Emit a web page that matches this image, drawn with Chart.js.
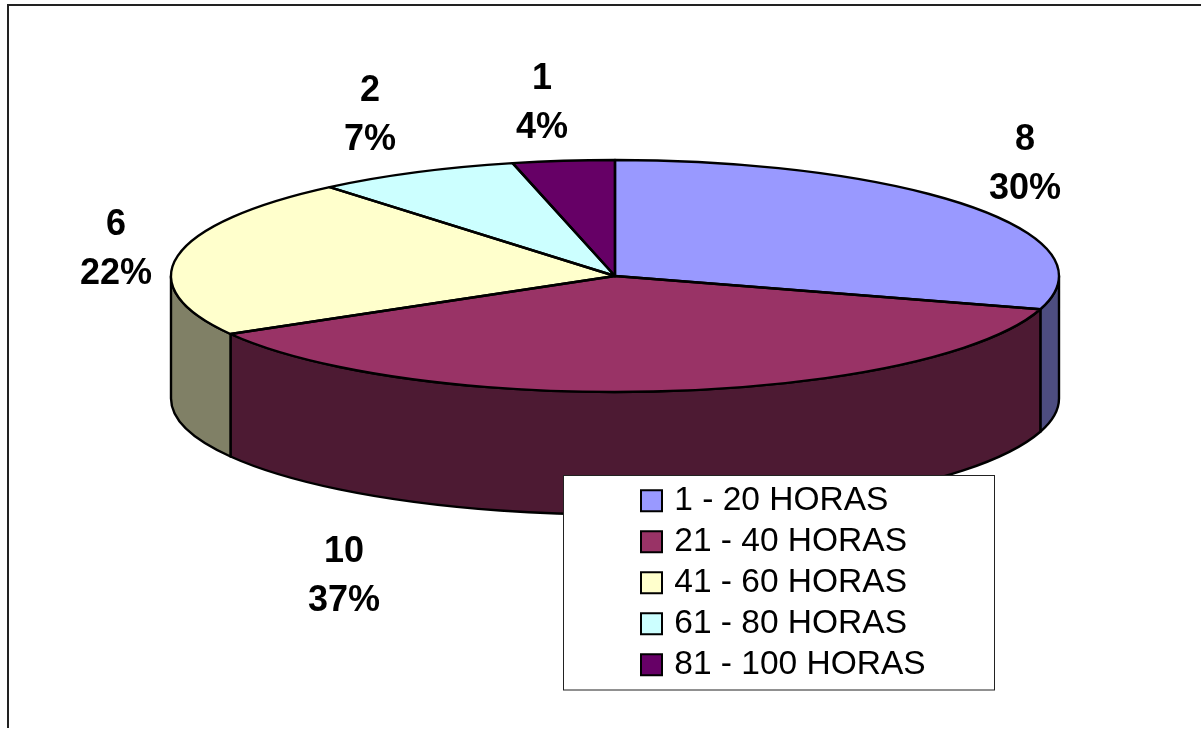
<!DOCTYPE html>
<html>
<head>
<meta charset="utf-8">
<style>html,body{margin:0;padding:0;background:#fff}canvas{display:block}</style>
<script src="https://cdn.jsdelivr.net/npm/chart.js@4"></script>
</head>
<body>
<canvas id="c" width="1201" height="729"></canvas>
<script>
const categories = ['1 - 20 HORAS','21 - 40 HORAS','41 - 60 HORAS','61 - 80 HORAS','81 - 100 HORAS'];
const values = [8,10,6,2,1];
const topColors = ['#9999FF','#993366','#FFFFCC','#CCFFFF','#660066'];
const wallColors = ['#4D4D80','#4D1A33','#808066','#668080','#330033'];
const labelCenters = [[1025,165],[344,577],[116,250],[370,116],[542,104]];

const P = {cx:615, cy:276, rx:444, ry:116, depth:122.5};
const LEG = {x:563.5, y:475.5, w:431, h:214.5, itemX:645.5, firstY:484};

function strokeStyle(ctx){ctx.lineWidth=2.4;ctx.strokeStyle='#000';ctx.lineJoin='round';}

const pie3d = {
  id:'pie3d',
  beforeLayout(chart){
    const lg = chart.legend;
    lg._layers = () => [{z:5, draw(){
      const c = chart.ctx;
      c.save();
      c.fillStyle='#fff'; c.strokeStyle='#222'; c.lineWidth=1;
      c.fillRect(LEG.x,LEG.y,LEG.w,LEG.h); c.strokeRect(LEG.x,LEG.y,LEG.w,LEG.h);
      lg.draw();
      c.restore();
    }}];
  },
  afterLayout(chart){
    const lg = chart.legend, pad = lg.options.labels.padding;
    lg.left = LEG.itemX - pad; lg.right = 1200; lg.width = lg.right-lg.left;
    lg.top = LEG.firstY - pad; lg.bottom = 728; lg.height = lg.bottom-lg.top;
  },
  beforeDraw(chart){
    const c = chart.ctx;
    c.save();
    c.fillStyle='#fff'; c.fillRect(0,0,chart.width,chart.height);
    c.strokeStyle='#222'; c.lineWidth=2;
    c.beginPath(); c.moveTo(1201,5); c.lineTo(8,5); c.lineTo(8,728); c.stroke();
    c.restore();
  },
  beforeDatasetsDraw(chart){
    const c = chart.ctx, arcs = chart.getDatasetMeta(0).data;
    c.save(); strokeStyle(c);
    arcs.forEach((a,i)=>{
      [[0,Math.PI],[2*Math.PI,3*Math.PI],[-2*Math.PI,-Math.PI]].forEach(([lo,hi])=>{
        const s=Math.max(a.startAngle,lo), e=Math.min(a.endAngle,hi);
        if(e<=s) return;
        c.beginPath();
        c.ellipse(P.cx,P.cy,P.rx,P.ry,0,s,e);
        c.ellipse(P.cx,P.cy+P.depth,P.rx,P.ry,0,e,s,true);
        c.closePath();
        c.fillStyle=wallColors[i]; c.fill(); c.stroke();
      });
    });
    c.restore();
    const a0 = arcs[0];
    c.save();
    c.translate(P.cx,P.cy);
    c.scale(P.rx/a0.outerRadius,P.ry/a0.outerRadius);
    c.translate(-a0.x,-a0.y);
  },
  afterDatasetsDraw(chart){
    const c = chart.ctx, arcs = chart.getDatasetMeta(0).data;
    c.restore();
    c.save(); strokeStyle(c);
    arcs.forEach(a=>{
      c.beginPath();
      c.moveTo(P.cx,P.cy);
      c.ellipse(P.cx,P.cy,P.rx,P.ry,0,a.startAngle,a.endAngle);
      c.closePath(); c.stroke();
    });
    const total = values.reduce((s,v)=>s+v,0);
    c.fillStyle='#000'; c.font='bold 36px "Liberation Sans"'; c.textAlign='center'; c.textBaseline='middle';
    values.forEach((v,i)=>{
      const [x,y]=labelCenters[i];
      c.fillText(String(v),x,y-24.5);
      c.fillText(Math.round(v/total*100)+'%',x,y+24.5);
    });
    c.restore();
  }
};

new Chart(document.getElementById('c'),{
  type:'pie',
  data:{labels:categories,datasets:[{data:values,backgroundColor:topColors,borderWidth:0}]},
  plugins:[pie3d],
  options:{
    responsive:false,animation:false,
    plugins:{
      tooltip:{enabled:false},
      legend:{
        display:true,position:'chartArea',align:'start',
        labels:{
          usePointStyle:true,pointStyle:'rect',boxWidth:12,boxHeight:21,padding:7.5,color:'#000',
          font:{family:'"Liberation Sans"',size:33.5},
          generateLabels(chart){
            return Chart.overrides.pie.plugins.legend.labels.generateLabels(chart).map(l=>({...l,strokeStyle:'#000',lineWidth:2}));
          }
        }
      }
    }
  }
});
</script>
</body>
</html>
